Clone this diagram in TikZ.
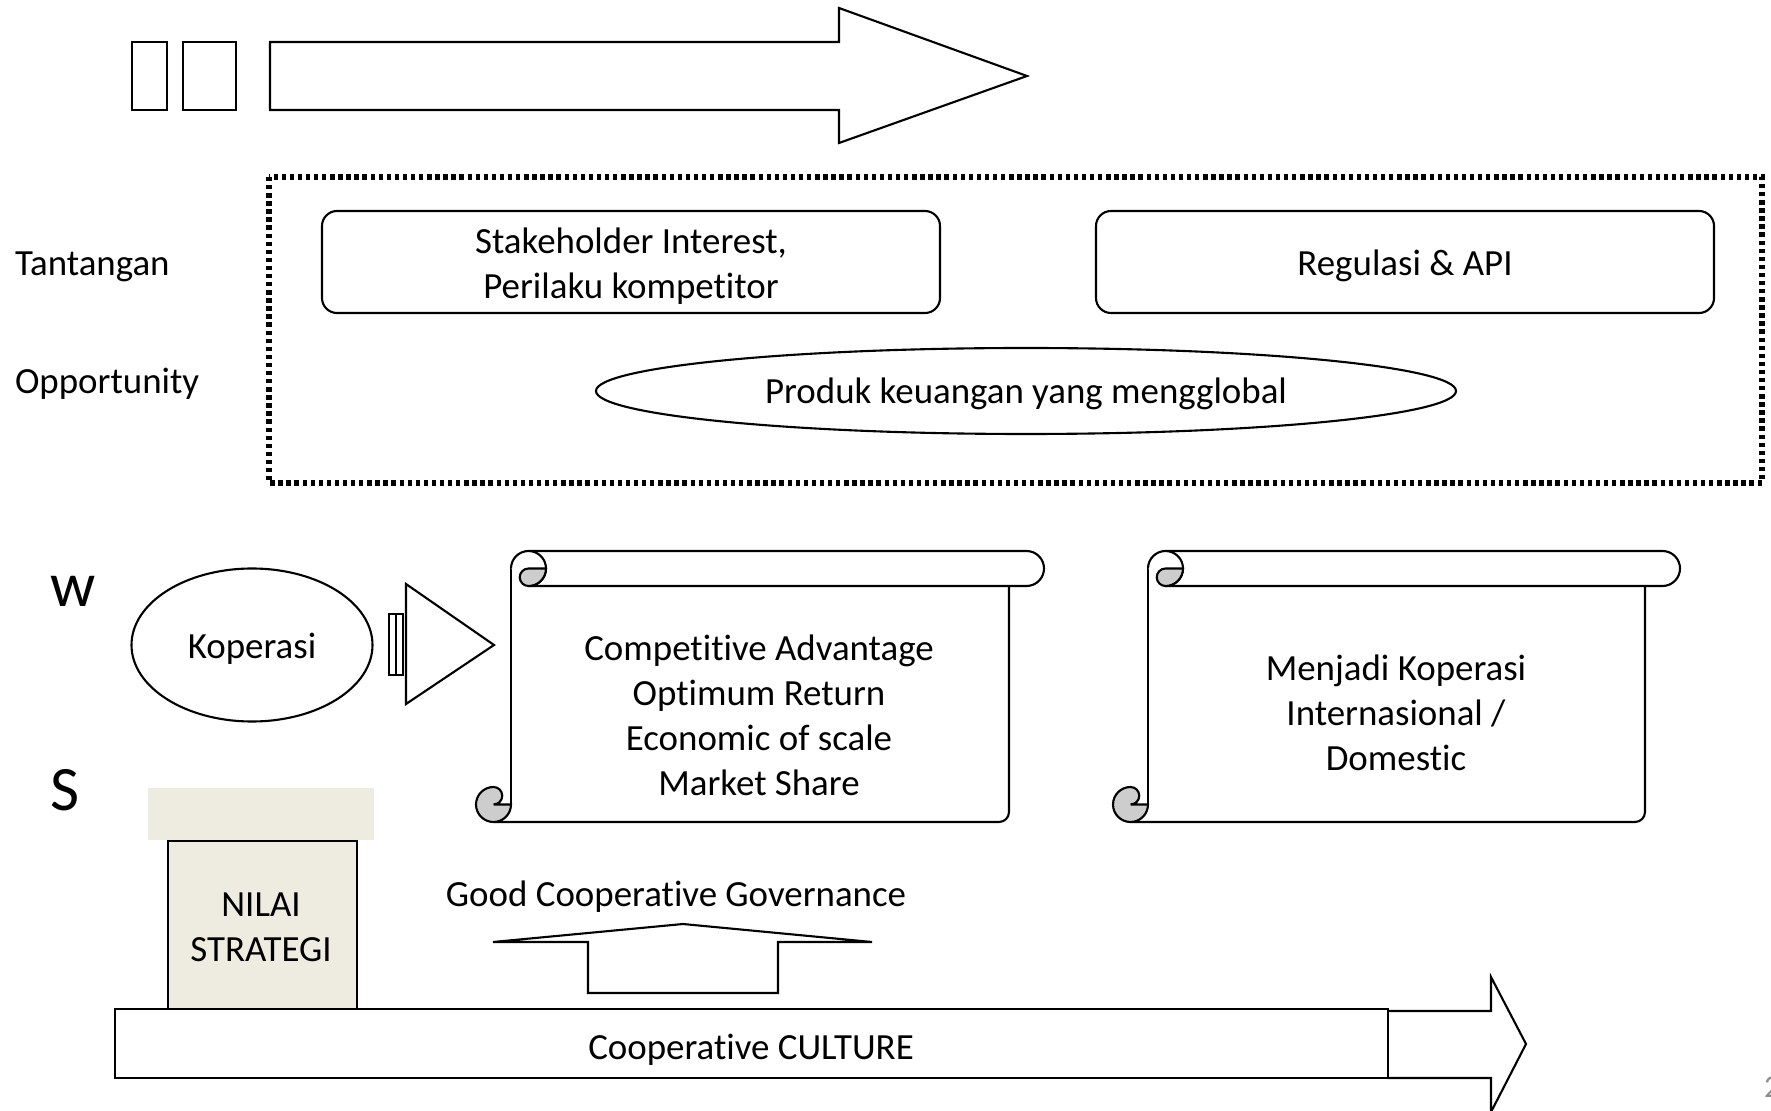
\documentclass[tikz,border=0pt]{standalone}
\usepackage{fontspec}
\setmainfont{Carlito}[Ligatures={NoCommon,NoRare,NoContextual}]
\usetikzlibrary{shapes.geometric}
\definecolor{paper}{HTML}{EEECE1}
\definecolor{curlshade}{HTML}{CDCDCD}
\definecolor{pagenum}{HTML}{8C8C8C}

% horizontal scroll: #1 left, #2 top, #3 right, #4 bottom (pixel units)
\newcommand\scrollshape[4]{%
  \pgfmathsetmacro\sL{#1}%
  \pgfmathsetmacro\sT{#2}%
  \pgfmathsetmacro\sR{#3}%
  \pgfmathsetmacro\sB{#4}%
  \pgfmathsetmacro\sXL{#1+35}%
  \pgfmathsetmacro\sXR{#3-35}%
  \fill[white] (\sXL,\sT+17.5) rectangle (\sXR,\sB);
  \draw[rounded corners=1mm] (\sXR,\sT+35) -- (\sXR,\sB) -- (\sL+17.5,\sB);
  \draw (\sXL,\sT+17.5) -- (\sXL,\sB-17.5);
  % top roll
  \draw[fill=white] (\sXL+17.5,\sT) -- (\sR-17.5,\sT)
    arc[start angle=90,end angle=-90,radius=1.75mm] -- (\sXL+17.5,\sT+35);
  \draw[fill=white] (\sXL,\sT+17.5) arc[start angle=180,end angle=-90,radius=1.75mm];
  \draw[fill=curlshade] (\sXL+17.5,\sT+17.5) -- (\sXL+35,\sT+17.5)
    arc[start angle=0,end angle=-90,radius=1.75mm]
    arc[start angle=-90,end angle=-270,radius=0.875mm] -- cycle;
  % bottom curl
  \draw[fill=curlshade] (\sL+17.5,\sB-17.5) -- (\sXL,\sB-17.5)
    arc[start angle=0,end angle=-270,radius=1.75mm]
    arc[start angle=90,end angle=-90,radius=0.875mm] -- cycle;
}

\begin{document}
\begin{tikzpicture}[x=0.1mm, y=-0.1mm,
  line width=0.6pt,
  txt/.style={font=\fontsize{10.5}{12.8}\selectfont, align=center, inner sep=0pt},
  bigletter/.style={font=\fontsize{18}{20}\selectfont, inner sep=0pt, anchor=base west},
  sidelabel/.style={font=\fontsize{10.5}{12.8}\selectfont, inner sep=0pt, anchor=base west},
  roundbox/.style={draw, rounded corners=1.5mm, minimum width=61.8mm, minimum height=10.2mm, inner sep=0pt},
  oval/.style={draw, ellipse, inner sep=0pt},
  dotframe/.style={line width=1.6pt, dash pattern=on 1.25pt off 1.05pt}
]
\useasboundingbox (0,0) rectangle (1771,1111);

% top bar: two blocks and a long arrow
\draw (132,42) rectangle (167,110);
\draw (183,42) rectangle (236,110);
\draw (270,42) -- (839,42) -- (839,8) -- (1027,76) -- (839,143) -- (839,110) -- (270,110) -- cycle;

% challenges and opportunities
\node[sidelabel] (tantangan) at (14,276) {Tantangan};
\node[sidelabel] (opportunity) at (14,394) {Opportunity};
\draw[dotframe] (269,177) rectangle (1762,483);
\node[roundbox] (stake) at (631,262) {};
\node[txt] (staketext) at (631,266) {Stakeholder Interest,\\Perilaku kompetitor};
\node[roundbox] (regulasi) at (1405,262) {};
\node[txt] (regtext) at (1405,266) {Regulasi \& API};
\node[oval, minimum width=86mm, minimum height=8.6mm] (produk) at (1026,391) {};
\node[txt] (produktext) at (1026,394) {Produk keuangan yang mengglobal};

% strengths / weaknesses row
\node[bigletter] (w) at (49,607) {w};
\node[bigletter] (s) at (49,810) {S};
\node[oval, minimum width=24.1mm, minimum height=15.3mm] (koperasi) at (252,645) {};
\node[txt] (koptext) at (252,649) {Koperasi};
\draw (389,614) rectangle (396,675);
\draw (396,614) rectangle (403,675);
\draw (406,584) -- (494,645) -- (406,704) -- cycle;

\scrollshape{476}{551}{1044}{822}
\node[txt] (goals) at (759,715) {Competitive Advantage\\Optimum Return\\Economic of scale\\Market Share};
\scrollshape{1113}{551}{1680}{822}
\node[txt] (vision) at (1396,713) {Menjadi Koperasi\\Internasional /\\Domestic};

% values pillar
\fill[paper] (148,788) rectangle (374,840);
\node[draw, fill=paper, anchor=north west, minimum width=18.9mm, minimum height=16.9mm,
      inner sep=0pt] (nilai) at (167,840) {};
\node[txt] (nilaitext) at (261,927) {NILAI\\STRATEGI};

% governance arrow
\node[txt] (gov) at (676,897) {Good Cooperative Governance};
\draw (493,942) -- (683,924) -- (872,942) -- (778,942) -- (778,993) -- (588,993) -- (588,942) -- cycle;

% culture base
\draw[fill=white] (115,1009) rectangle (1388,1078);
\draw (1388,1011) -- (1491,1011) -- (1491,977) -- (1526,1044) -- (1491,1112) -- (1491,1078) -- (1388,1078);
\node[txt] (culture) at (751,1050) {Cooperative CULTURE};

\node[anchor=base west, inner sep=0pt, text=pagenum, font=\fontsize{9}{10}\selectfont] (page) at (1763,1097) {2};
\end{tikzpicture}
\end{document}
